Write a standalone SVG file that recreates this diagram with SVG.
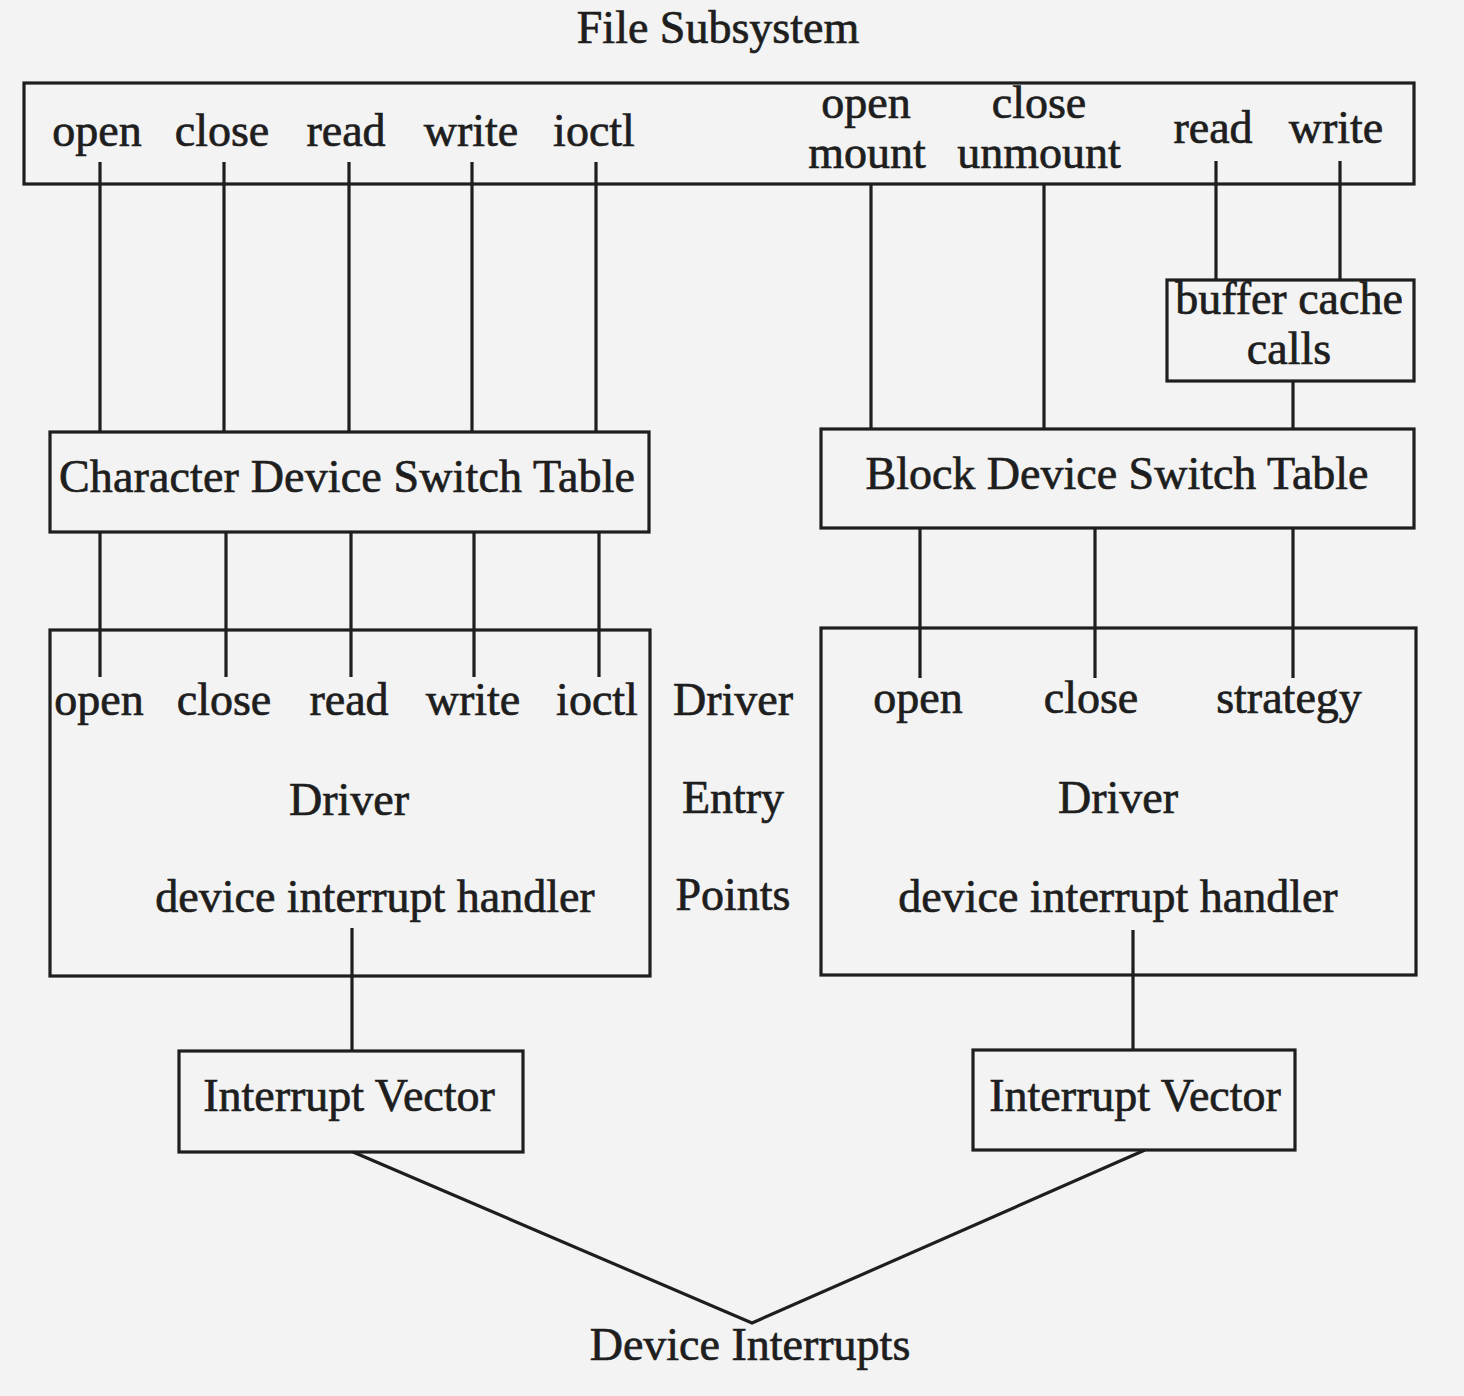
<svg xmlns="http://www.w3.org/2000/svg" width="1464" height="1396" viewBox="0 0 1464 1396">
<style>
.bx{fill:none;stroke:#1e1e1e;stroke-width:3.2}
.ln{stroke:#1e1e1e;stroke-width:3.2;fill:none}
text{font-family:"Liberation Serif","Times New Roman",serif;font-size:46px;fill:#1e1e1e;stroke:#1e1e1e;stroke-width:0.7px;text-anchor:middle}
</style>
<rect x="0" y="0" width="1464" height="1396" fill="#f3f3f3"/>
<g id="title"><text x="718" y="43">File Subsystem</text></g>
<g id="file-subsystem">
<rect class="bx" x="24" y="83" width="1390" height="101"/>
<text x="97" y="146">open</text>
<text x="222" y="146">close</text>
<text x="346" y="146">read</text>
<text x="471" y="146">write</text>
<text x="594" y="146">ioctl</text>
<text x="866" y="118">open</text>
<text x="867" y="168">mount</text>
<text x="1039" y="118">close</text>
<text x="1039" y="168">unmount</text>
<text x="1213" y="143">read</text>
<text x="1336" y="143">write</text>
</g>
<g id="buffer-cache">
<rect class="bx" x="1167" y="280" width="247" height="101"/>
<text x="1289" y="314">buffer cache</text>
<text x="1289" y="364">calls</text>
</g>
<g id="char-switch">
<rect class="bx" x="50" y="432" width="599" height="100"/>
<text x="347" y="492" textLength="576" lengthAdjust="spacing">Character Device Switch Table</text>
</g>
<g id="block-switch">
<rect class="bx" x="821" y="429" width="593" height="99"/>
<text x="1117" y="489">Block Device Switch Table</text>
</g>
<g id="char-driver">
<rect class="bx" x="50" y="630" width="600" height="346"/>
<text x="99" y="715">open</text>
<text x="224" y="715">close</text>
<text x="349" y="715">read</text>
<text x="473" y="715">write</text>
<text x="597" y="715">ioctl</text>
<text x="349" y="815">Driver</text>
<text x="375" y="912">device interrupt handler</text>
</g>
<g id="entry-points">
<text x="733" y="715">Driver</text>
<text x="733" y="813">Entry</text>
<text x="733" y="910">Points</text>
</g>
<g id="block-driver">
<rect class="bx" x="821" y="628" width="595" height="347"/>
<text x="918" y="713">open</text>
<text x="1091" y="713">close</text>
<text x="1289" y="713">strategy</text>
<text x="1118" y="813">Driver</text>
<text x="1118" y="912">device interrupt handler</text>
</g>
<g id="iv-left">
<rect class="bx" x="179" y="1051" width="344" height="101"/>
<text x="349" y="1111">Interrupt Vector</text>
</g>
<g id="iv-right">
<rect class="bx" x="973" y="1050" width="322" height="100"/>
<text x="1135" y="1111">Interrupt Vector</text>
</g>
<g id="device-interrupts">
<text x="750" y="1360">Device Interrupts</text>
</g>
<g id="connectors">
<path class="ln" d="M100 162V432M224 162V432M349 162V432M472 162V432M596 162V432"/>
<path class="ln" d="M871 184V429M1044 184V429M1216 161V280M1340 161V280M1293 381V429"/>
<path class="ln" d="M100 532V677M226 532V677M351 532V677M474 532V677M599 532V677"/>
<path class="ln" d="M920 528V678M1095 528V678M1293 528V678"/>
<path class="ln" d="M352 928V1051M1133 930V1050"/>
<path class="ln" d="M353 1152L752 1323L1145 1150"/>
</g>
</svg>
